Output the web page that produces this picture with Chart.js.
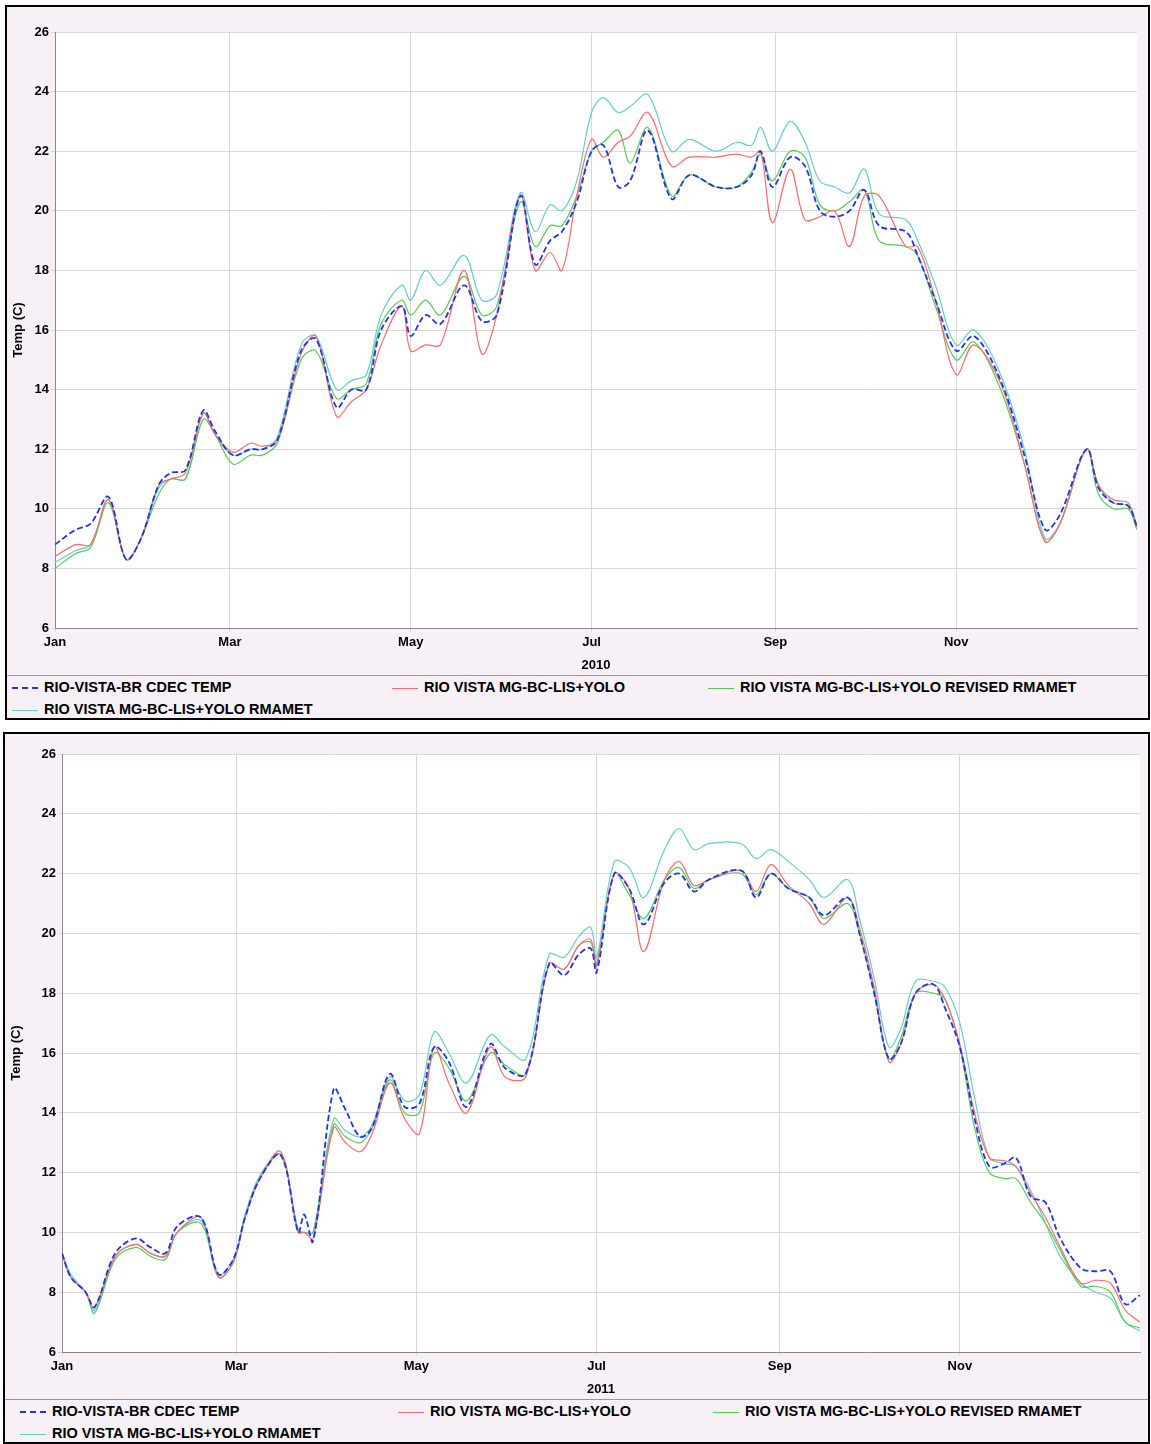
<!DOCTYPE html>
<html><head><meta charset="utf-8">
<script src="https://cdn.jsdelivr.net/npm/chart.js@4.4.1/dist/chart.umd.min.js"></script>
<style>
body{margin:0;background:#fff;font-family:"Liberation Sans",Arial,sans-serif;}
.panel{position:absolute;border:2px solid #000;background:#f7f1f7;box-sizing:border-box;}
.panel canvas{position:absolute;left:0;top:0;}
.leg{position:absolute;left:0;right:0;border-top:1px solid #999;font-weight:bold;font-size:14.5px;color:#000;}
.it{position:absolute;white-space:nowrap;}
.it i{display:inline-block;width:26px;vertical-align:middle;margin-right:6px;border-top:1.5px solid;}
</style></head><body>
<div class="panel" id="p1" style="left:5px;top:5px;width:1145px;height:715px"><canvas id="c1"></canvas><div class="leg" id="l1" style="top:668px;bottom:0"></div></div>
<div class="panel" id="p2" style="left:3px;top:732px;width:1147px;height:712px"><canvas id="c2"></canvas><div class="leg" id="l2" style="top:665px;bottom:0"></div></div>
<script>
// series names
const nomes = ['RIO-VISTA-BR CDEC TEMP', 'RIO VISTA MG-BC-LIS+YOLO', 'RIO VISTA MG-BC-LIS+YOLO REVISED RMAMET', 'RIO VISTA MG-BC-LIS+YOLO RMAMET'];
const cores = ['#2233ee', '#ff6a6a', '#55cc55', '#66cccc'];

// month ticks
const mesDias = [0, 59, 120, 181, 243, 304];
const mesLabels = ['Jan', 'Mar', 'May', 'Jul', 'Sep', 'Nov'];

// 2010 (day of year)
const dias2010 = [0,7,12,18,24,29,35,39,44,50,54,60,66,70,75,83,88,95,100,105,110,117,120,125,130,138,144,149,157,162,167,171,176,181,185,190,194,200,208,214,223,230,235,238,242,248,253,258,263,268,273,278,287,291,297,304,310,319,327,334,339,348,352,357,362,365];
const cdec2010 = [8.8,9.3,9.5,10.4,8.3,9.0,10.8,11.2,11.3,13.3,12.6,11.8,12.0,12.0,12.3,15.3,15.7,13.4,14.0,14.0,16.0,16.8,15.8,16.5,16.2,17.5,16.3,16.5,20.5,18.2,19.0,19.3,20.3,22.0,22.2,20.8,21.0,22.7,20.4,21.2,20.8,20.8,21.2,22.0,20.8,21.8,21.5,20.0,19.8,20.0,20.7,19.5,19.3,18.5,17.0,15.3,15.8,14.3,11.8,9.3,9.8,12.0,10.7,10.2,10.1,9.4];
const yolo2010 = [8.4,8.8,8.8,10.3,8.3,9.0,10.8,11.0,11.2,13.2,12.5,11.9,12.2,12.1,12.3,15.2,15.8,13.1,13.6,14.0,15.5,16.8,15.3,15.5,15.5,18.0,15.2,16.5,20.5,18.0,18.6,18.0,20.5,22.4,21.8,22.3,22.5,23.3,21.5,21.8,21.8,21.9,21.8,22.0,19.6,21.4,19.7,19.8,20.0,18.8,20.5,20.5,18.8,18.8,17.0,14.5,15.5,14.2,11.5,8.9,9.5,12.0,10.8,10.3,10.2,9.4];
const revisado2010 = [8.0,8.5,8.7,10.2,8.3,9.0,10.5,11.0,11.0,13.0,12.5,11.5,11.8,11.8,12.2,15.0,15.3,13.7,14.0,14.2,16.2,17.0,16.5,17.0,16.5,17.8,16.5,16.8,20.3,18.8,19.5,19.5,20.5,22.0,22.3,22.7,21.6,22.8,20.5,21.2,20.8,20.8,21.3,21.9,21.0,22.0,21.8,20.2,20.0,20.3,20.7,19.0,18.8,18.5,16.8,15.0,15.6,14.0,11.5,8.9,9.5,12.0,10.5,10.0,10.0,9.3];
const rmamet2010 = [8.2,8.6,8.8,10.3,8.3,9.0,10.7,11.0,11.0,13.2,12.5,11.8,12.0,12.0,12.4,15.5,15.8,14.0,14.3,14.5,16.5,17.5,17.0,18.0,17.5,18.5,17.0,17.2,20.6,19.3,20.2,20.0,21.0,23.3,23.8,23.3,23.5,23.9,22.0,22.4,22.0,22.3,22.2,22.8,22.0,23.0,22.3,21.0,20.8,20.6,21.4,19.9,19.7,19.0,17.5,15.5,16.0,14.5,12.0,9.0,9.5,12.0,10.8,10.2,10.1,9.4];

// 2011
const dias2011 = [0,3,8,11,18,25,30,35,39,47,53,58,62,67,74,80,82,85,92,96,101,105,111,116,121,126,131,137,145,150,157,165,170,175,179,181,187,192,197,204,209,214,219,230,235,240,246,253,258,266,270,275,280,284,289,295,299,304,309,314,319,323,328,333,338,345,350,355,360,365];
const cdec2011 = [9.3,8.5,8.0,7.5,9.3,9.8,9.5,9.3,10.2,10.5,8.6,9.1,10.5,11.8,12.6,10.0,10.6,9.7,14.8,14.1,13.2,13.5,15.3,14.2,14.3,16.2,15.7,14.2,16.3,15.5,15.3,19.0,18.6,19.3,19.5,18.7,22.0,21.5,20.3,21.7,22.0,21.4,21.8,22.1,21.2,22.0,21.5,21.2,20.6,21.2,20.0,18.0,15.8,16.3,18.0,18.3,17.5,16.2,13.8,12.2,12.3,12.5,11.2,11.0,9.8,8.8,8.7,8.7,7.6,7.9];
const yolo2011 = [9.3,8.5,8.0,7.5,9.2,9.6,9.3,9.2,10.0,10.5,8.5,9.0,10.5,11.8,12.7,10.0,10.0,9.8,13.5,13.0,12.7,13.3,15.0,13.8,13.3,16.2,15.0,14.0,16.2,15.2,15.2,19.0,18.8,19.6,19.8,18.9,22.0,21.5,19.4,21.8,22.4,21.6,21.8,22.1,21.4,22.3,21.6,21.0,20.3,21.2,20.2,18.2,15.7,16.3,18.0,18.3,17.8,16.3,14.0,12.5,12.4,12.2,11.3,10.5,9.5,8.3,8.4,8.3,7.4,7.0];
const revisado2011 = [9.3,8.5,8.0,7.3,9.1,9.5,9.2,9.1,10.0,10.3,8.5,9.0,10.5,11.8,12.6,10.0,10.0,10.0,13.6,13.2,13.0,13.5,15.1,14.0,14.0,16.0,15.5,14.4,16.0,15.6,15.3,19.0,18.8,19.6,19.7,19.0,22.0,21.3,20.5,21.8,22.2,21.5,21.8,22.0,21.3,22.0,21.5,21.2,20.5,21.0,20.0,18.0,15.8,16.5,18.0,18.0,17.8,16.2,13.5,12.0,11.8,11.8,11.0,10.3,9.4,8.2,8.2,8.0,7.0,6.8];
const rmamet2011 = [9.3,8.6,8.0,7.4,9.2,9.6,9.3,9.2,10.0,10.4,8.6,9.1,10.6,11.9,12.6,10.1,10.0,10.0,13.8,13.4,13.2,13.6,15.2,14.4,14.6,16.7,16.0,15.0,16.6,16.2,15.8,19.3,19.2,19.9,20.2,19.2,22.4,22.2,21.2,22.8,23.5,22.8,23.0,23.0,22.5,22.8,22.4,21.8,21.2,21.8,20.5,18.5,16.2,16.8,18.4,18.4,18.2,17.0,14.5,12.5,12.3,12.2,11.4,10.3,9.2,8.3,8.0,7.8,7.0,6.7];

const fundoBranco = {
  id: 'fundoBranco',
  beforeDraw(chart) {
    const a = chart.chartArea, c = chart.ctx;
    c.save(); c.fillStyle = '#fff'; c.fillRect(a.left, a.top, a.right - a.left, a.bottom - a.top); c.restore();
  }
};

function grafico(id, w, h, dias, series, ano, esq, topo, dir, legId, legPos) {
  const cv = document.getElementById(id);
  cv.width = w; cv.height = h; cv.style.width = w + 'px'; cv.style.height = h + 'px';
  new Chart(cv, {
    type: 'line',
    data: {
      datasets: series.map((s, i) => ({
        label: nomes[i],
        data: dias.map((d, k) => ({ x: d, y: s[k] })),
        borderColor: cores[i],
        borderWidth: i === 0 ? 1.8 : 1.2,
        borderDash: i === 0 ? [6, 3] : [],
        pointRadius: 0,
        tension: 0.35,
        order: i === 0 ? 0 : 1
      }))
    },
    options: {
      responsive: false, animation: false,
      layout: { padding: { top: topo, right: dir, left: 0, bottom: 0 } },
      plugins: { legend: { display: false }, tooltip: { enabled: false } },
      scales: {
        x: {
          type: 'linear', min: 0, max: 365,
          afterBuildTicks: ax => { ax.ticks = mesDias.map(v => ({ value: v })); },
          ticks: { autoSkip: false, maxRotation: 0, color: '#000', font: { weight: 'bold', size: 13 },
            callback: v => mesLabels[mesDias.indexOf(v)] },
          grid: { color: '#d8d8d8', tickLength: 4 },
          border: { color: '#888' },
          title: { display: true, text: ano, color: '#000', font: { weight: 'bold', size: 13 }, padding: 2 },
          afterFit: ax => { ax.height = 47; }
        },
        y: {
          min: 6, max: 26,
          ticks: { stepSize: 2, color: '#000', font: { weight: 'bold', size: 13 }, padding: 2 },
          grid: { color: '#d8d8d8', tickLength: 4 },
          border: { color: '#888' },
          title: { display: true, text: 'Temp (C)', color: '#000', font: { weight: 'bold', size: 13 }, padding: 4 },
          afterFit: ax => { ax.width = esq; }
        }
      }
    },
    plugins: [fundoBranco]
  });
  const leg = document.getElementById(legId);
  legPos.forEach((p, i) => {
    const d = document.createElement('div');
    d.className = 'it';
    d.style.left = p[0] + 'px'; d.style.top = p[1] + 'px';
    d.innerHTML = '<i style="border-top:' + (i === 0 ? '2px dashed ' : '1.5px solid ') + cores[i] + '"></i>' + nomes[i];
    leg.appendChild(d);
  });
}

grafico('c1', 1141, 668, dias2010, [cdec2010, yolo2010, revisado2010, rmamet2010], '2010', 48, 25, 11, 'l1',
  [[5, 3], [385, 3], [701, 3], [5, 25]]);
grafico('c2', 1143, 665, dias2011, [cdec2011, yolo2011, revisado2011, rmamet2011], '2011', 57, 20, 8, 'l2',
  [[15, 3], [393, 3], [708, 3], [15, 25]]);
</script>
</body></html>
